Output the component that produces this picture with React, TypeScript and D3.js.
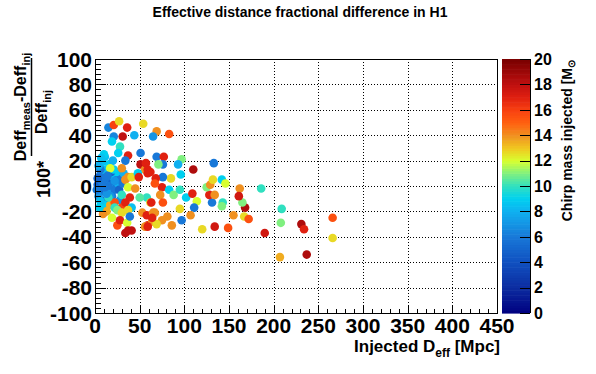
import React from 'react';
import * as d3 from 'd3';

// Injected effective distance [Mpc]
const injectedDeff = [
  6, 9, 3, 7, 4, 11, 15, 19, 12, 17, 22, 26, 20, 26, 10, 16, 8, 12, 19, 27, 31, 6, 17, 10, 28, 24, 32, 6, 2, 18, 15,
  13, 19, 25, 9, 17, 30,
  15, 21, 27, 36, 54, 21, 31, 44, 19, 28, 26, 37, 11, 20, 34, 62, 51, 21, 17, 30, 37, 56,
  34, 41, 48, 59, 37, 45, 22, 15, 30, 39, 58, 62, 34, 22, 41, 25, 30, 37, 53, 58, 65, 28, 36, 39, 37, 34, 41, 59, 56, 64,
  69, 83, 65, 51, 97, 93, 69, 77, 76, 71, 57, 59, 49, 85, 76, 68, 96, 75, 67, 83, 88, 95, 102, 73, 50, 63, 76, 67, 81, 95, 97, 86, 75, 69, 59, 64,
  266, 266, 231, 234, 237, 207, 209, 208, 190, 186, 167, 172, 168, 165, 162, 161, 155, 149, 134, 120,
  143, 142, 131, 114, 111, 107, 109, 128, 134, 125, 129, 132, 142, 146, 133, 110,
  4, 8, 13, 5, 3, 14, 10, 22, 7, 11,
];

// 100*(Deff_meas - Deff_inj)/Deff_inj
const fracDiff = [
  9, 5, 1, -3, -8, 1, 6, 2, -5, -2, -3, 2, 8, 6, 13, 17, 19, -11, -8, -3, 2, 13, -8, -15, -11, 11, 10, -12, -3, 11, 0,
  -20, -25, -31, -22, -15, -17,
  46, 48, 51, 46, 49, 39, 39, 40, 35, 31, 26, 24, 23, 20, 20, 11, 17, 13, 14, 14, 7, 13,
  5, 7, 10, 10, -1, -2, -13, -9, -7, -9, -9, -13, -13, -17, -17, -19, -21, -19, -21, -23, -21, -27, -29, -24, -35, -37, -35, -31, -32, -28,
  43, 41, 39, 26, 21, 17, 23, 23, 17, 17, 18, 13, 7, 6, 7, 6, 9, -1, 2, -3, -7, -3, -9, -7, -9, -13, -13, -21, -24, -18, -27, -31, -27, -30, -32, -25,
  -41, -25, -30, -34, -54, -56, -18, -29, -37, -2, -24, -26, -17, -13, -2, -8, -23, -33, -32, -34,
  -13, -16, -13, -12, -17, -23, -6, -7, -7, -1, 1, 5, 5, 2, 18, 13,
  16, 3, -6, -17, 6, 8, 25, 4, 22, -1,
];

// Injected chirp mass [M_sun]
const chirpMass = [
  6, 6, 5, 6, 7, 8, 6, 5, 5, 8, 6, 8, 8.5, 6, 8.5, 9, 8.5, 6, 6, 5, 6, 6, 7, 9, 7, 9, 8, 8.5, 6, 5, 6,
  13.5, 12, 15.5, 14, 13.5, 16,
  6.5, 16, 12.7, 17, 12.7, 6.5, 18, 8, 9, 10, 9, 17, 8.5, 8, 6, 17, 18, 9, 12, 14, 14, 14,
  14, 12.7, 9, 17, 12, 14, 15.5, 10, 10, 17, 10, 12.7, 17, 10, 8.5, 11, 12.7, 12.7, 14, 17, 14, 17, 12, 6, 18, 18, 18, 17, 14, 14,
  14, 15.5, 7, 6, 11, 8, 6, 17, 6, 11, 17, 17, 17, 12.7, 6, 17, 9, 17, 15.5, 9, 11, 10, 9, 14, 10.5, 17, 15.5, 14, 14, 12.7, 6, 14, 14, 12.7, 17, 17,
  12.7, 15.5, 18.5, 17, 18.5, 13.5, 10, 11, 17.5, 10, 12.7, 15.5, 18.5, 11, 14, 17.5, 14, 15.5, 17.5, 12.7,
  10, 11, 6, 12, 6, 14, 17, 17, 14, 11, 14, 12.7, 9, 12, 6, 18.5,
  8, 6, 7, 9, 5, 6, 9, 7, 8.5, 6,
];

const xTicks = [0, 50, 100, 150, 200, 250, 300, 350, 400, 450];
const yTicks = [-100, -80, -60, -40, -20, 0, 20, 40, 60, 80, 100];
const zTicks = [0, 2, 4, 6, 8, 10, 12, 14, 16, 18, 20];

const paletteStops = [0, 2, 4, 6, 8, 9, 10, 11, 12, 13, 14, 15, 16, 17, 18, 20];
const paletteColors = [
  '#000080', '#0c2ca0', '#1050c0', '#1878d8', '#10b0f0', '#00d0f0', '#30e0c0', '#80f080',
  '#d8ff30', '#f0c820', '#f09020', '#ff6010', '#f84010', '#e02010', '#c01010', '#780000',
];

const FONT = "'Liberation Sans', Arial, Helvetica, sans-serif";

export default function App() {
  const W = 596, H = 374;
  const L = 95, R = 497, T = 59, B = 313;
  const x = d3.scaleLinear().domain([0, 450]).range([L, R]);
  const y = d3.scaleLinear().domain([-100, 100]).range([B, T]);
  const zx0 = 502, zx1 = 530;
  const z = d3.scaleLinear().domain([0, 20]).range([B, T]);
  const color = d3.scaleLinear<string>().domain(paletteStops).range(paletteColors)
    .interpolate(d3.interpolateRgb).clamp(true);

  const yMinor = d3.range(-100, 100.1, 4).filter(v => Math.abs(v % 20) > 0.01);
  const xMinor = d3.range(0, 450.1, 10).filter(v => Math.abs(v % 50) > 0.01);
  const bands = d3.range(0, 20, 0.2);

  const pts = injectedDeff.map((d, i) => ({ x: d, y: fracDiff[i], m: chirpMass[i] }));

  return (
    <svg width={W} height={H} style={{ position: 'absolute', left: 0, top: 0, background: '#fff' }}
      fontFamily={FONT} fontWeight="bold">
      <rect x={0} y={0} width={W} height={H} fill="#fff" />
      <text x={300} y={17} fontSize={14} textAnchor="middle">Effective distance fractional difference in H1</text>

      {/* grid */}
      <g stroke="#000" strokeWidth={1} strokeDasharray="1,2">
        {xTicks.slice(1, -1).map(v => (
          <line key={'gx' + v} x1={Math.round(x(v)) + 0.5} x2={Math.round(x(v)) + 0.5} y1={T} y2={B} />
        ))}
        {yTicks.slice(1, -1).map(v => (
          <line key={'gy' + v} x1={L} x2={R} y1={Math.round(y(v)) + 0.5} y2={Math.round(y(v)) + 0.5} />
        ))}
      </g>

      {/* points */}
      <g>
        {pts.map((p, i) => (
          <circle key={i} cx={x(p.x)} cy={y(p.y)} r={4.3} fill={color(p.m)} />
        ))}
      </g>

      {/* frame */}
      <rect x={L + 0.5} y={T + 0.5} width={R - L} height={B - T} fill="none" stroke="#000" strokeWidth={1} />

      {/* ticks */}
      <g stroke="#000" strokeWidth={1}>
        {yTicks.map(v => (
          <line key={'ty' + v} x1={L} x2={L + 11} y1={Math.round(y(v)) + 0.5} y2={Math.round(y(v)) + 0.5} />
        ))}
        {yMinor.map(v => (
          <line key={'tym' + v} x1={L} x2={L + 6} y1={Math.round(y(v)) + 0.5} y2={Math.round(y(v)) + 0.5} />
        ))}
        {xTicks.map(v => (
          <line key={'tx' + v} x1={Math.round(x(v)) + 0.5} x2={Math.round(x(v)) + 0.5} y1={B} y2={B - 8} />
        ))}
        {xMinor.map(v => (
          <line key={'txm' + v} x1={Math.round(x(v)) + 0.5} x2={Math.round(x(v)) + 0.5} y1={B} y2={B - 4} />
        ))}
      </g>

      {/* tick labels */}
      <g fontSize={21}>
        {yTicks.map(v => (
          <text key={'ly' + v} x={L - 3} y={y(v)} dy="0.36em" textAnchor="end">{v}</text>
        ))}
        {xTicks.map(v => (
          <text key={'lx' + v} x={x(v)} y={333} textAnchor="middle">{v}</text>
        ))}
      </g>

      {/* x title */}
      <text x={500} y={352} fontSize={17} textAnchor="end">
        Injected D<tspan fontSize={12} dy={5}>eff</tspan><tspan dy={-5}> [Mpc]</tspan>
      </text>

      {/* y title */}
      <g transform="rotate(-90)">
        <text x={-107} y={26} fontSize={16} textAnchor="middle">
          Deff<tspan fontSize={11} dy={4}>meas</tspan><tspan dy={-4}>-Deff</tspan><tspan fontSize={11} dy={4}>inj</tspan>
        </text>
        <line x1={-156} x2={-58} y1={31.5} y2={31.5} stroke="#000" strokeWidth={1.5} />
        <text x={-112} y={47} fontSize={16} textAnchor="middle">
          Deff<tspan fontSize={11} dy={4}>inj</tspan>
        </text>
        <text x={-198} y={50} fontSize={18} textAnchor="start">100*</text>
      </g>

      {/* colour bar */}
      <g>
        {bands.map(v => (
          <rect key={'b' + v} x={zx0} width={zx1 - zx0} y={z(v + 0.2)} height={z(v) - z(v + 0.2) + 0.6} fill={color(v + 0.1)} />
        ))}
        <line x1={zx1 + 0.5} x2={zx1 + 0.5} y1={T} y2={B} stroke="#000" />
        {zTicks.map(v => (
          <line key={'zt' + v} x1={zx1} x2={zx1 - 10} y1={Math.round(z(v)) + 0.5} y2={Math.round(z(v)) + 0.5} stroke="#000" />
        ))}
        <g fontSize={16}>
          {zTicks.map(v => (
            <text key={'zl' + v} x={zx1 + 4} y={z(v)} dy="0.36em" textAnchor="start">{v}</text>
          ))}
        </g>
      </g>
      <g transform="translate(572,60) rotate(-90)">
        <text x={0} y={0} fontSize={14} textAnchor="end">
          Chirp mass injected [M<tspan fontSize={10} dy={3}>⊙</tspan>
        </text>
      </g>
    </svg>
  );
}
